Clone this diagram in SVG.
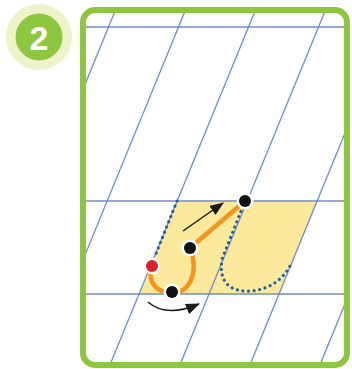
<svg xmlns="http://www.w3.org/2000/svg" width="352" height="369" viewBox="0 0 352 369">
<style>
.grid{stroke:#6f8bcc;stroke-width:1.3;fill:none}
.dots{stroke:#1d5ca8;stroke-width:3.2;stroke-linecap:round;stroke-dasharray:0 5.6;fill:none}
.stroke{stroke:#f7941d;stroke-width:4.5;fill:none;stroke-linecap:round}
.ring{fill:#fff}
.arr{stroke:#1a1a1a;stroke-width:1.5;fill:none}
</style>
<defs>
<clipPath id="inner"><rect x="86" y="13" width="258" height="349" rx="9"/></clipPath>
<marker id="ah" viewBox="0 0 14 11" refX="13" refY="5.5" markerWidth="14" markerHeight="11" markerUnits="userSpaceOnUse" orient="auto"><path d="M0,0 L14,5.5 L0,11 Z" fill="#1a1a1a"/></marker>
</defs>
<g id="badge">
<circle cx="39" cy="37" r="33" fill="#eef3c9"/>
<circle cx="39" cy="37" r="23.5" fill="#8dc63f"/>
<text x="39" y="49.5" text-anchor="middle" font-family="Liberation Sans, Arial, sans-serif" font-weight="bold" font-size="34" fill="#fff">2</text>
</g>
<g id="frame">
<rect x="83" y="10" width="264" height="355" rx="12" fill="#fff" stroke="#8dc63f" stroke-width="6"/>
</g>
<g id="grid" clip-path="url(#inner)">
<polygon points="177.2,201 317.2,201 279.1,294 139.1,294" fill="#fde99b"/>
<line class="grid" x1="86" y1="27" x2="344" y2="27" stroke-width="2"/>
<line class="grid" x1="86" y1="201" x2="344" y2="201"/>
<line class="grid" x1="86" y1="294" x2="344" y2="294"/>
<line class="grid" x1="189.6" y1="0" x2="39.9" y2="365"/>
<line class="grid" x1="259.6" y1="0" x2="109.9" y2="365"/>
<line class="grid" x1="329.6" y1="0" x2="179.9" y2="365"/>
<line class="grid" x1="399.6" y1="0" x2="249.9" y2="365"/>
<line class="grid" x1="469.6" y1="0" x2="319.9" y2="365"/>
<line class="grid" x1="119.6" y1="0" x2="-30.1" y2="365"/>
</g>
<g id="guides">
<path class="dots" d="M177,201 L155,256"/>
<path class="dots" d="M245,201 L222,259 C218,284 232,292 250,291 C270,290 285,278 292,262"/>
</g>
<g id="connectors">
<path class="stroke" d="M152,266 C146,285 160,293 172,293 C188,293 200,275 190,248 L245,201"/>
<path class="arr" d="M183,231 L223,203" marker-end="url(#ah)"/>
<path class="arr" d="M148,302 Q166,318 199,304" marker-end="url(#ah)"/>
</g>
<g id="p-top"><circle class="ring" cx="245" cy="201" r="8.5"/><circle cx="245" cy="201" r="6" fill="#111"/></g>
<g id="p-mid"><circle class="ring" cx="190" cy="248" r="8.5"/><circle cx="190" cy="248" r="6" fill="#111"/></g>
<g id="p-bottom"><circle class="ring" cx="172" cy="292" r="8.5"/><circle cx="172" cy="292" r="6" fill="#111"/></g>
<g id="p-start"><circle class="ring" cx="152" cy="266" r="8.5"/><circle cx="152" cy="266" r="6" fill="#d9232a"/></g>
</svg>
